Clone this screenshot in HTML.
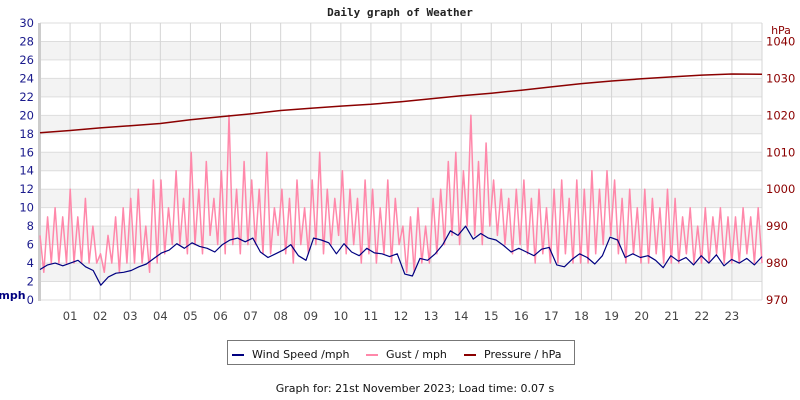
<!DOCTYPE html>
<html><head><meta charset="utf-8"><style>
body{margin:0;background:#fff;}
svg{display:block;font-family:"DejaVu Sans","Liberation Sans",sans-serif;}
</style></head><body>
<svg id="chart" width="800" height="400" viewBox="0 0 800 400">
<text x="400" y="16" text-anchor="middle" font-family="DejaVu Sans Mono, Liberation Mono, monospace" font-weight="bold" font-size="11" fill="#222">Daily graph of Weather</text>
<g id="bands"></g>
<g id="grid"></g>
<g id="axes"></g>
<g id="series"></g>
<text x="12" y="299" text-anchor="middle" font-weight="bold" font-size="11" fill="#000080">mph</text>
<text x="781" y="34" text-anchor="middle" font-size="11" fill="#8b0000">hPa</text>
<g>
<rect x="227.5" y="340.5" width="347" height="24" fill="#fff" stroke="#777"/>
<g><line x1="232" y1="355" x2="244" y2="355" stroke="#000080" stroke-width="2"/><text x="252" y="358" font-size="11" fill="#111">Wind Speed /mph</text></g>
<g><line x1="366" y1="355" x2="378" y2="355" stroke="#ff88aa" stroke-width="2"/><text x="386" y="358" font-size="11" fill="#111">Gust / mph</text></g>
<g><line x1="464" y1="355" x2="476" y2="355" stroke="#8b0000" stroke-width="2"/><text x="484" y="358" font-size="11" fill="#111">Pressure / hPa</text></g>
</g>
<text x="415" y="392" text-anchor="middle" font-size="11" fill="#111">Graph for: 21st November 2023; Load time: 0.07 s</text>
</svg>
<script>
const hourLabels=["01","02","03","04","05","06","07","08","09","10","11","12","13","14","15","16","17","18","19","20","21","22","23"];
const mphTicks=[0,2,4,6,8,10,12,14,16,18,20,22,24,26,28,30];
const hpaTicks=[970,980,990,1000,1010,1020,1030,1040];
const windSpeed=[3.3,3.8,4.0,3.7, 4.0,4.3,3.6,3.2, 1.6,2.5,2.9,3.0, 3.2,3.6,3.9,4.5, 5.1,5.4,6.1,5.6, 6.2,5.8,5.6,5.2, 6.0,6.5,6.7,6.3, 6.7,5.2,4.6,5.0, 5.4,6.0,4.8,4.3, 6.7,6.5,6.2,5.0, 6.1,5.2,4.8,5.6, 5.1,5.0,4.7,5.0, 2.8,2.6,4.5,4.3, 5.0,6.0,7.5,7.0, 8.0,6.6,7.2,6.7, 6.5,5.9,5.2,5.6, 5.2,4.8,5.5,5.7, 3.8,3.6,4.4,5.0, 4.6,3.9,4.8,6.8, 6.5,4.6,5.0,4.6, 4.8,4.3,3.5,4.8, 4.2,4.6,3.8,4.8, 4.0,4.9,3.7,4.4, 4.0,4.5,3.8,4.7];
const gust=[7,3,9,4,10,4,9,4, 12,4,9,4,11,4,8,4, 5,3,7,4,9,3,10,4, 11,4,12,4,8,3,13,4, 13,5,10,6,14,6,11,5, 16,6,12,5,15,7,11,6, 14,5,20,6,12,5,15,6, 13,6,12,5,16,5,10,7, 12,5,11,4,13,6,10,5, 13,6,16,5,12,6,11,7, 14,5,12,6,11,4,13,5, 12,4,10,5,13,4,11,6, 8,3,9,3,10,4,8,4, 11,5,12,6,15,7,16,6, 14,8,20,7,15,6,17,8, 13,7,12,6,11,5,12,6, 13,5,11,4,12,5,10,4, 12,4,13,5,11,4,13,4, 12,4,14,5,12,6,14,7, 13,5,11,4,12,5,10,4, 12,4,11,5,10,4,12,4, 11,4,9,5,10,4,8,4, 10,4,9,5,10,4,9,4, 9,4,10,5,9,4,10,4];
const pressure=[1015.3,1015.9,1016.6,1017.2,1017.8,1018.8,1019.6,1020.4,1021.3,1021.9,1022.5,1023.0,1023.7,1024.5,1025.3,1026.0,1026.8,1027.7,1028.6,1029.3,1029.9,1030.4,1030.9,1031.2,1031.1];

const X0=40,X1=762,Y0=300,Y1=23;
const xs=h=>X0+(X1-X0)*h/24;
const ym=v=>Y0-(Y0-Y1)*v/30;
const yp=p=>ym((p-970)*0.4);
const NS="http://www.w3.org/2000/svg";
function mk(tag,attrs,parent){const e=document.createElementNS(NS,tag);for(const k in attrs)e.setAttribute(k,attrs[k]);parent.appendChild(e);return e;}
const bands=document.getElementById('bands'),grid=document.getElementById('grid'),axes=document.getElementById('axes'),series=document.getElementById('series');
for(let v=2;v<30;v+=4){const r=mk('rect',{x:X0,y:ym(v+2),width:X1-X0,height:ym(v)-ym(v+2),fill:'#f3f3f3'},bands);

}
mphTicks.forEach(v=>{const l=mk('line',{x1:X0,x2:X1,y1:ym(v),y2:ym(v),stroke:'#ddd','stroke-width':1},grid);


const t=mk('text',{x:34,y:ym(v)+4,'text-anchor':'end','font-size':11.5,fill:'#1a1a8c'},axes);t.textContent=v;

});
hpaTicks.forEach(p=>{const t=mk('text',{x:766,y:yp(p)+4,'font-size':11.5,fill:'#8b0000'},axes);t.textContent=p;

});
hourLabels.forEach((s,i)=>{const x=xs(i+1);const l=mk('line',{x1:x,x2:x,y1:Y1,y2:Y0,stroke:'#d4d4d4','stroke-width':1},grid);


const t=mk('text',{x:x,y:320,'text-anchor':'middle','font-size':11.5,fill:'#444'},axes);t.textContent=s;

});
const rb=mk('line',{x1:X1,x2:X1,y1:Y1,y2:Y0,stroke:'#d4d4d4'},grid);


const lb=mk('line',{x1:X0-0.5,x2:X0-0.5,y1:Y1,y2:Y0+1,stroke:'#ccc','stroke-width':3},axes);


function poly(arr,fy,color,w,name){const n=arr.length;const pts=arr.map((v,i)=>xs(i*24/(n-1)).toFixed(1)+','+fy(v).toFixed(1)).join(' ');
const p=mk('polyline',{points:pts,fill:'none',stroke:color,'stroke-width':w,'stroke-linejoin':'round'},series);

}
poly(gust,ym,'#ff88aa',1.5,'gust-line');
poly(windSpeed,ym,'#000080',1.2,'wind-speed-line');
poly(pressure,yp,'#8b0000',1.5,'pressure-line');
</script>
</body></html>
